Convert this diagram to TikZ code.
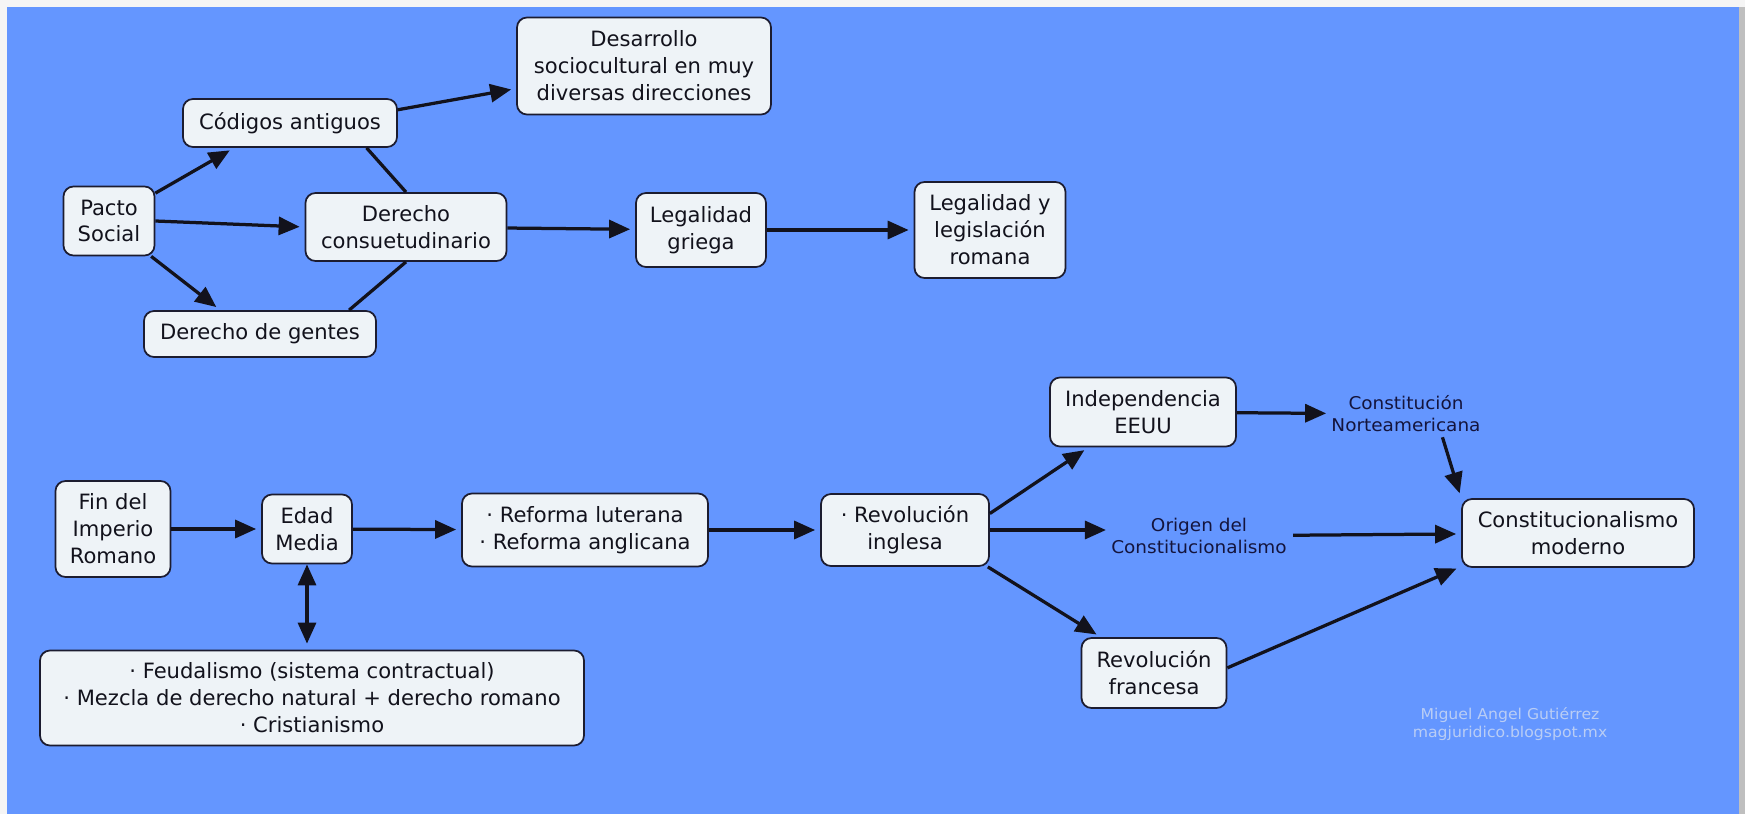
\documentclass[tikz,border=0pt]{standalone}
\usepackage{fontspec}
\setmainfont{DejaVu Sans}
\newfontfamily\letrachica[FakeStretch=1.05]{DejaVu Sans}
\usetikzlibrary{arrows.meta}
\definecolor{fondo}{RGB}{100,150,255}
\definecolor{caja}{RGB}{238,243,247}
\definecolor{borde}{RGB}{28,28,48}
\definecolor{tinta}{RGB}{18,18,28}
\definecolor{azuloscuro}{RGB}{20,20,60}
\definecolor{marca}{RGB}{185,205,245}

\begin{document}
\begin{tikzpicture}[x=0.02cm, y=-0.02cm,
    concepto/.style={draw=borde, line width=0.035cm, fill=caja, rounded corners=0.2cm, align=center, text=tinta, inner sep=0pt, font=\fontsize{12}{15.3}\selectfont},
    enlace/.style={align=center, inner sep=0pt, text=azuloscuro, font=\letrachica\fontsize{10}{12.5}\selectfont},
    flecha/.style={-{Triangle[length=0.42cm,width=0.36cm]}, line width=0.065cm, draw=tinta, shorten >=0.1cm},
    doble/.style={flecha, {Triangle[length=0.42cm,width=0.36cm]}-{Triangle[length=0.42cm,width=0.36cm]}},
    union/.style={line width=0.065cm, draw=tinta}]

    % Fondo
    \useasboundingbox (0,0) rectangle (1745,814);
    \fill[gray!8] (0,0) rectangle (1745,814);
    \fill[fondo] (7,7) rectangle (1739,814);
    \fill[gray!50] (1739,7) rectangle (1745,814);

    % Conceptos
    \foreach \nombre/\x/\y/\w/\h/\texto in {
        pacto/109/221/91/69/{Pacto\\Social},
        codigos/290/123/214/48/{Códigos antiguos},
        desarrollo/644/66/254/97/{Desarrollo\\sociocultural en muy\\diversas direcciones},
        consuet/406/227/201/68/{Derecho\\consuetudinario},
        gentes/260/334/232/46/{Derecho de gentes},
        griega/701/230/130/74/{Legalidad\\griega},
        romana/990/230/151/96/{Legalidad y\\legislación\\romana},
        fin/113/529/115/96/{Fin del\\Imperio\\Romano},
        edad/307/529/90/69/{Edad\\Media},
        reforma/585/530/246/73/{· Reforma luterana\\· Reforma anglicana},
        inglesa/905/530/168/72/{· Revolución\\inglesa},
        feudal/312/698/544/95/{· Feudalismo (sistema contractual)\\· Mezcla de derecho natural + derecho romano\\· Cristianismo},
        eeuu/1143/412/186/69/{Independencia\\EEUU},
        francesa/1154/673/145/70/{Revolución\\francesa},
        moderno/1578/533/232/68/{Constitucionalismo\\moderno}} {
        \node[concepto, minimum width=\w*0.02cm, minimum height=\h*0.02cm] (\nombre) at (\x,\y) {\texto};
    }

    % Frases sueltas
    \node[enlace] (norte) at (1406,414) {Constitución\\Norteamericana};
    \node[enlace] (origen) at (1199,536) {Origen del\\Constitucionalismo};
    \node[enlace, text=marca, font=\letrachica\fontsize{8.5}{10}\selectfont] (firma) at (1510,724) {Miguel Angel Gutiérrez\\magjuridico.blogspot.mx};

    % Conexiones arriba
    \draw[flecha] (pacto.31) -- (codigos.204);
    \draw[flecha] (pacto.east) -- (consuet.west);
    \draw[flecha] (pacto.320) -- (gentes.149);
    \draw[flecha] (codigos.7) -- (desarrollo.190);
    \draw[union] (codigos.342) -- (consuet.north);
    \draw[union] (consuet.south) -- (gentes.15);
    \draw[flecha] (consuet) -- (griega);
    \draw[flecha] (griega) -- (romana);

    % Conexiones abajo
    \draw[flecha] (fin) -- (edad);
    \draw[flecha] (edad) -- (reforma);
    \draw[flecha] (reforma) -- (inglesa);
    \draw[doble, shorten >=0.12cm] (edad.south) -- (edad.south |- feudal.north);
    \draw[flecha] (inglesa.11) -- (eeuu.213);
    \draw[flecha] (inglesa.east) -- (inglesa.east -| origen.west);
    \draw[flecha] (inglesa.336) -- (francesa.146);
    \draw[flecha] (eeuu) -- (norte);
    \draw[flecha, shorten <=0.1cm] ([xshift=0.7cm]norte.south) -- (moderno.north west);
    \draw[flecha, shorten <=0.12cm] (origen) -- (moderno);
    \draw[flecha] (francesa.4) -- (moderno.196);

\end{tikzpicture}
\end{document}
